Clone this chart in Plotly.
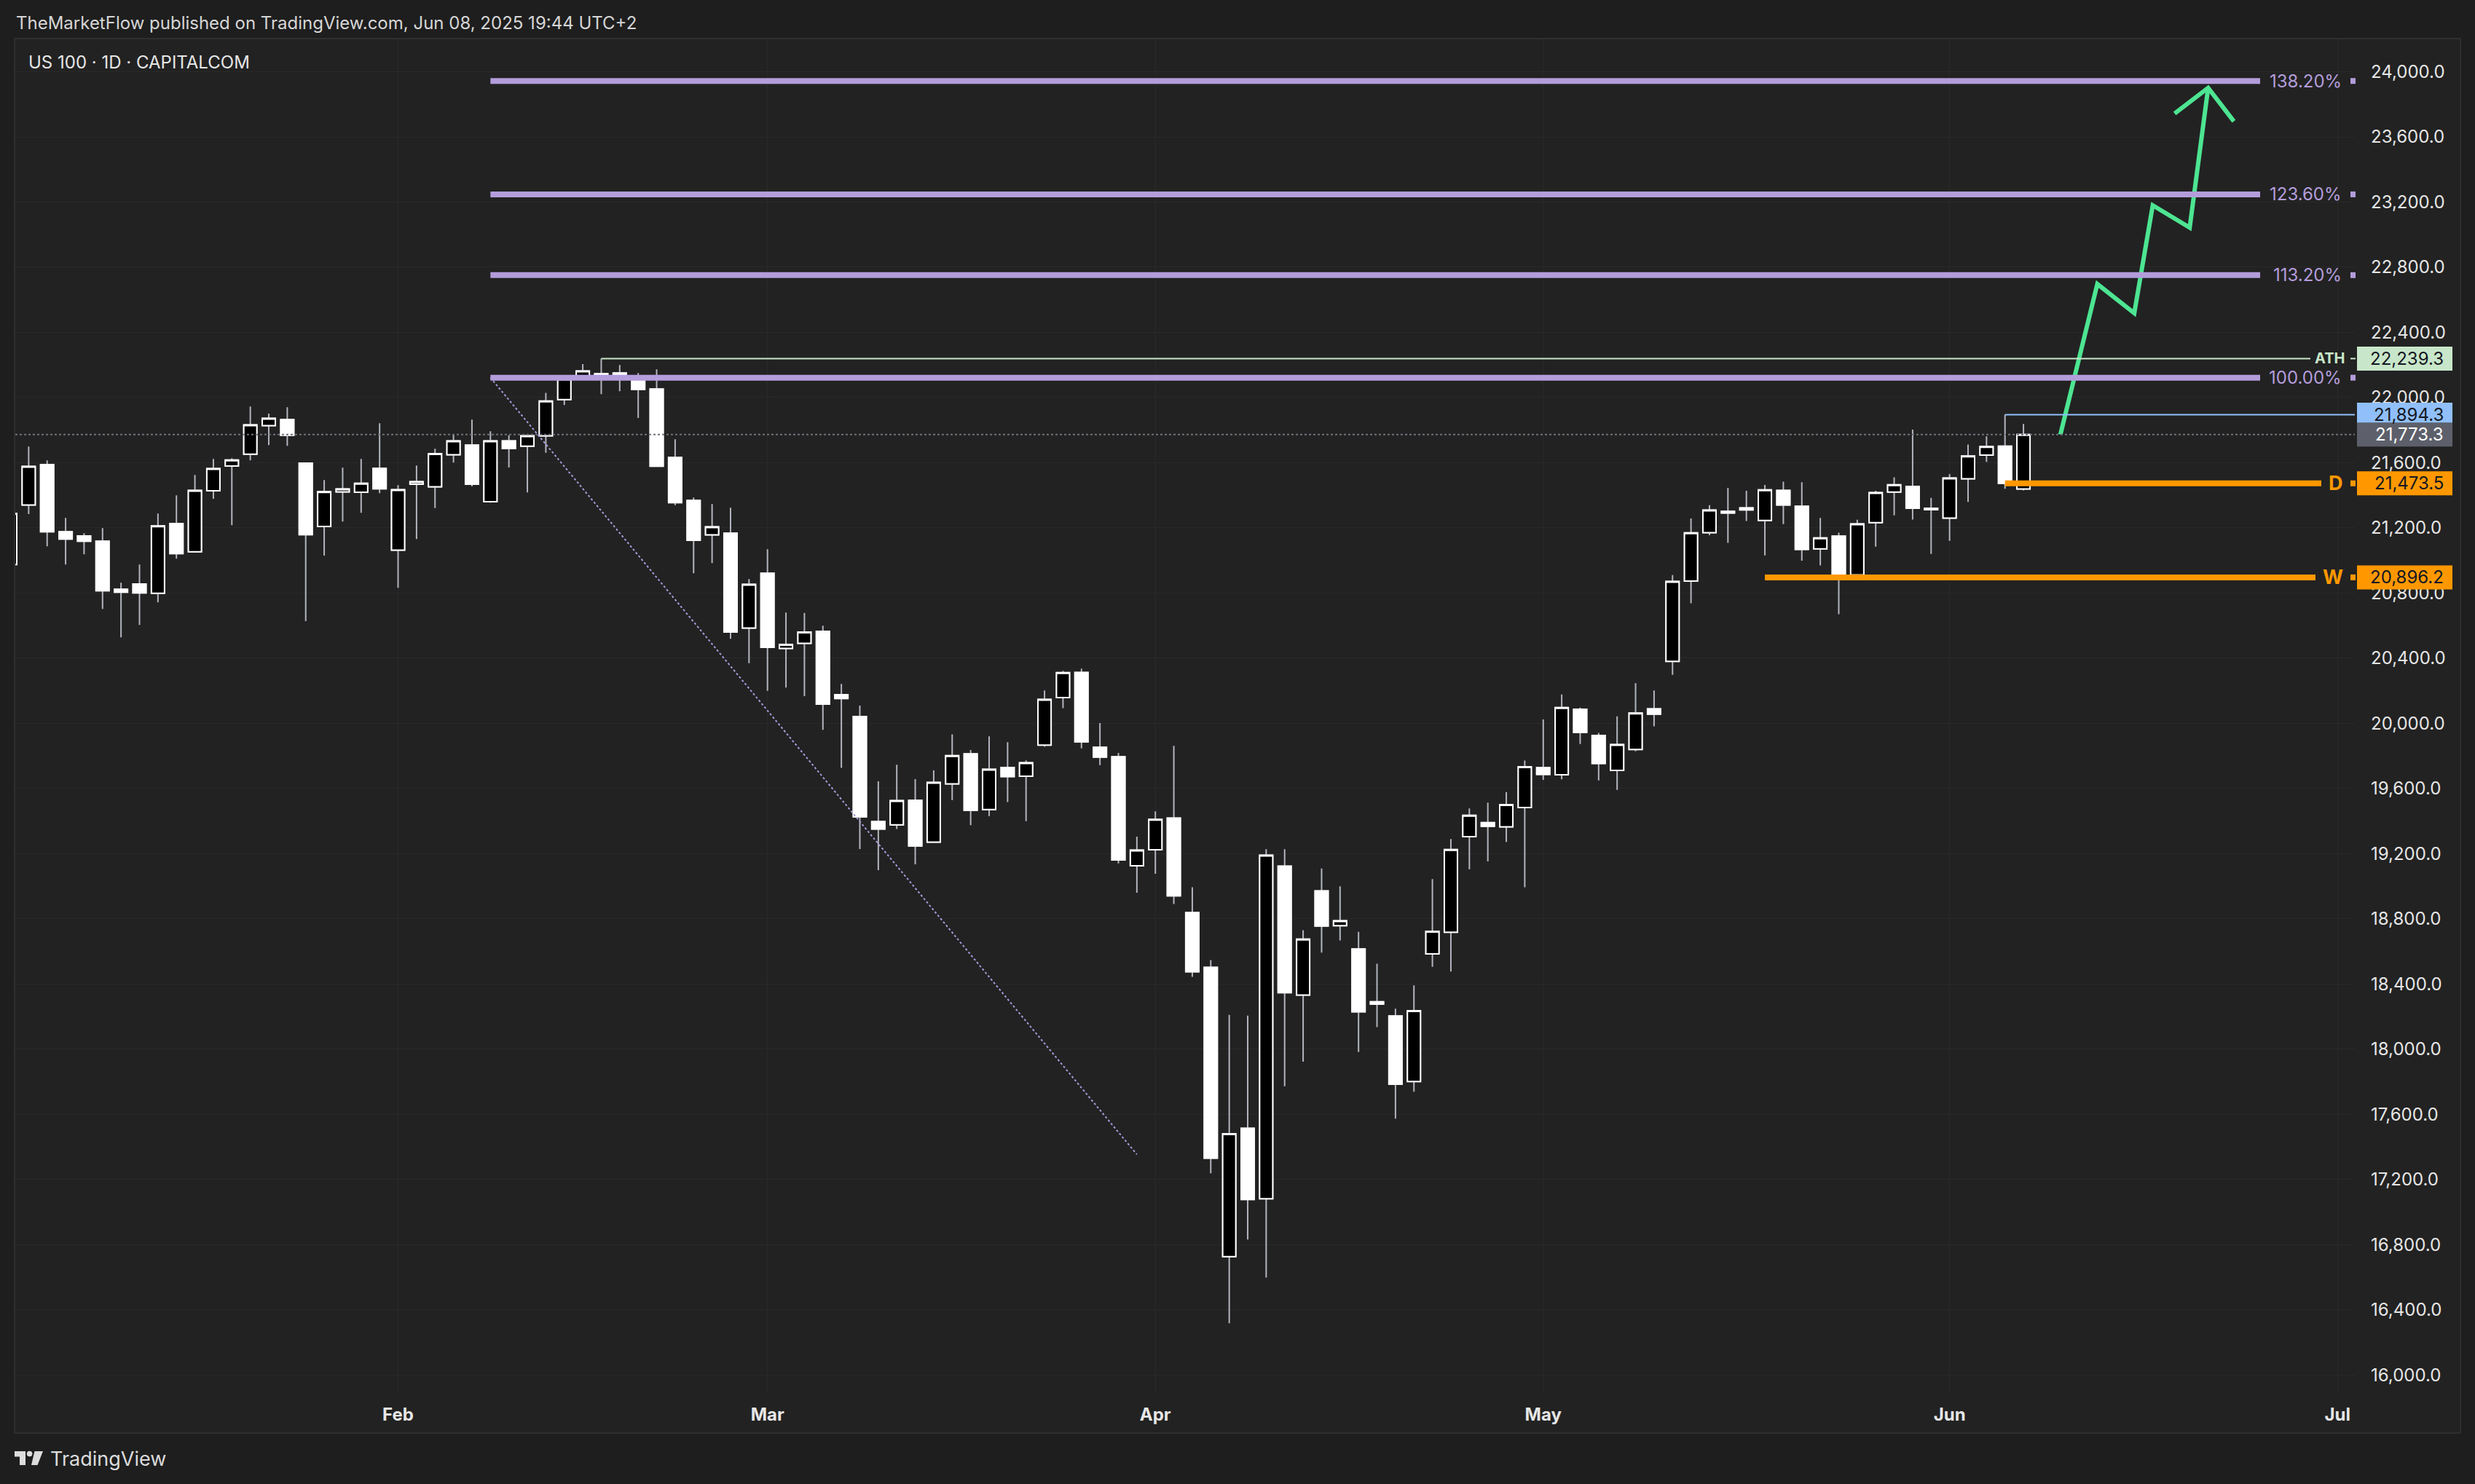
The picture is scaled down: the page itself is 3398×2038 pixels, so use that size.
import numpy as np
import pandas as pd
import plotly.graph_objects as go

# ---------------- data ----------------
HOLIDAYS = ["2025-04-18"]
dates = [d for d in pd.bdate_range("2025-01-03", "2025-06-06") if d.strftime("%Y-%m-%d") not in HOLIDAYS]
future_dates = list(pd.bdate_range("2025-06-09", "2025-07-03"))

opens = [20975, 21340, 21589, 21176, 21150, 21118, 20823, 20855, 20798, 21226,
         21053, 21428, 21580, 21652, 21828, 21865, 21597, 21209, 21421, 21419,
         21565, 21063, 21468, 21452, 21649, 21708, 21361, 21734, 21701, 21765,
         21988, 22131, 22146, 22151, 22128, 22052, 21632, 21369, 21157, 21167,
         20585, 20922, 20460, 20491, 20565, 20176, 20042, 19397, 19377, 19528,
         19271, 19629, 19813, 19471, 19729, 19675, 19867, 20158, 20313, 19853,
         19795, 19126, 19224, 19418, 18838, 18502, 16726, 17514, 17082, 19124,
         18332, 18971, 18758, 18615, 18291, 18204, 17802, 18585, 18718, 19305,
         19390, 19365, 19483, 19728, 19685, 20087, 19926, 19711, 19840, 20089,
         20381, 20873, 21171, 21301, 21323, 21245, 21430, 21333, 21071, 21149,
         20911, 21232, 21420, 21455, 21320, 21260, 21501, 21647, 21701, 21439]
highs = [21330, 21699, 21614, 21261, 21167, 21199, 20863, 20975, 21288, 21400,
         21525, 21623, 21628, 21945, 21901, 21941, 21600, 21494, 21570, 21623,
         21842, 21462, 21583, 21686, 21775, 21865, 21793, 21768, 21768, 22029,
         22137, 22205, 22239.3, 22200, 22151, 22173, 21744, 21386, 21346, 21324,
         20886, 21069, 20680, 20678, 20600, 20242, 20109, 19644, 19746, 19658,
         19711, 19933, 19836, 19920, 19884, 19773, 20202, 20322, 20336, 20002,
         19818, 19304, 19460, 19862, 18994, 18547, 18211, 18206, 19227, 19227,
         18730, 19109, 18999, 18720, 18525, 18249, 18392, 19044, 19290, 19478,
         19513, 19578, 19772, 20024, 20177, 20097, 19942, 20043, 20247, 20202,
         20910, 21258, 21339, 21446, 21428, 21464, 21484, 21480, 21261, 21171,
         21250, 21428, 21510, 21803, 21384, 21530, 21712, 21762, 21894.3, 21838]
lows = [20930, 21285, 21087, 20975, 21038, 20703, 20528, 20604, 20743, 21011,
        21048, 21379, 21217, 21614, 21708, 21704, 20628, 21030, 21239, 21293,
        21413, 20832, 21132, 21321, 21601, 21455, 21355, 21571, 21418, 21661,
        21954, 22108, 22021, 22039, 21875, 21575, 21339, 20922, 20984, 20519,
        20370, 20200, 20220, 20167, 19960, 19727, 19228, 19099, 19351, 19135,
        19266, 19529, 19375, 19431, 19517, 19400, 19856, 20093, 19847, 19744,
        19140, 18960, 19077, 18891, 18444, 17238, 16317, 16831, 16598, 17772,
        17923, 18593, 18668, 17983, 18136, 17574, 17739, 18505, 18477, 19104,
        19152, 19272, 18994, 19653, 19656, 19873, 19650, 19592, 19829, 19982,
        20298, 20737, 21155, 21108, 21242, 21031, 21223, 20999, 20969, 20670,
        20898, 21085, 21277, 21251, 21040, 21120, 21360, 21605, 21440, 21430]
closes = [21288, 21577, 21176, 21132, 21118, 20814, 20805, 20801, 21212, 21042,
          21430, 21564, 21617, 21832, 21872, 21768, 21158, 21422, 21439, 21474,
          21440, 21434, 21484, 21656, 21734, 21468, 21734, 21687, 21765, 21979,
          22114, 22163, 22140, 22143, 22050, 21579, 21355, 21124, 21206, 20561,
          20853, 20467, 20484, 20560, 20118, 20153, 19426, 19351, 19526, 19248,
          19638, 19802, 19466, 19718, 19673, 19758, 20147, 20311, 19887, 19793,
          19162, 19222, 19411, 18941, 18475, 17331, 17481, 17077, 19190, 18347,
          18675, 18756, 18788, 18229, 18276, 17785, 18236, 18723, 19225, 19435,
          19368, 19501, 19734, 19687, 20097, 19945, 19754, 19870, 20063, 20057,
          20871, 21170, 21309, 21291, 21310, 21433, 21341, 21068, 21138, 20896.2,
          21224, 21416, 21465, 21320, 21311, 21506, 21641, 21699, 21473.5, 21773.3]

# drawings (time, price)
FIB_ANCHOR_DATES = ["2025-02-10", "2025-03-31"]
FIB_ANCHOR_PRICES = [22122, 17354]
FIB_RATIOS = [1.0, 1.132, 1.236, 1.382]
FIB_LABELS = ["100.00%", "113.20%", "123.60%", "138.20%"]
ATH_DATE, ATH_PRICE = "2025-02-18", 22239.3
HIGH_DATE, HIGH_PRICE = "2025-06-05", 21894.3
D_DATE, D_PRICE = "2025-06-05", 21473.5
W_DATE, W_PRICE = "2025-05-19", 20896.2
LAST_PRICE = 21773.3
ARROW_DATES = ["2025-06-10", "2025-06-12", "2025-06-16", "2025-06-17", "2025-06-19", "2025-06-20"]
ARROW_PRICES = [21773.3, 22697, 22518, 23180, 23043, 23901]
MONTH_TICKS = ["2025-02-03", "2025-03-03", "2025-04-01", "2025-05-01", "2025-06-02", "2025-07-01"]
MONTH_LABELS = ["Feb", "Mar", "Apr", "May", "Jun", "Jul"]

# ---------------- geometry ----------------
W, H = 3398, 2038
L_PX, R_PX, T_PX, B_PX = 21, 3233, 54, 1912
XR = [0.276, 126.94]
YR = [15894, 24199]

calendar = [d.strftime("%Y-%m-%d") for d in dates + future_dates]
pos = {d: i for i, d in enumerate(calendar)}
xs = list(range(len(dates)))

def px(x):
    return (x - L_PX) / (R_PX - L_PX)

def py(y):
    return (B_PX - y) / (B_PX - T_PX)

def x_of_px(xp):
    return XR[0] + (xp - L_PX) / (R_PX - L_PX) * (XR[1] - XR[0])

def y_px(p):
    return B_PX - (p - YR[0]) / (YR[1] - YR[0]) * (B_PX - T_PX)

SX = (R_PX - L_PX) / (XR[1] - XR[0])
SY = (B_PX - T_PX) / (YR[1] - YR[0])

BG_OUT, BG_IN, FRAME = "#1e1e1e", "#222222", "#2e2e2e"
WICK, WHITE = "#b2b5be", "#ffffff"
PURPLE, ORANGE, ATHC, BLUE, GREEN = "#b39ddb", "#ff9800", "#c8e6c9", "#90bff9", "#4de592"
FONT = "Inter, Roboto, sans-serif"
FS = 24

fig = go.Figure()

# wicks
fig.add_trace(go.Candlestick(
    x=xs, open=opens, high=highs, low=lows, close=closes,
    increasing=dict(line=dict(color=WICK, width=2), fillcolor="rgba(0,0,0,0)"),
    decreasing=dict(line=dict(color=WICK, width=2), fillcolor="rgba(0,0,0,0)"),
    hoverinfo="skip", showlegend=False))
# bodies
body_hi = [max(o, c) for o, c in zip(opens, closes)]
body_lo = [min(o, c) for o, c in zip(opens, closes)]
fig.add_trace(go.Candlestick(
    x=xs, open=opens, high=body_hi, low=body_lo, close=closes,
    increasing=dict(line=dict(color=WHITE, width=2), fillcolor="#000000"),
    decreasing=dict(line=dict(color=WHITE, width=2), fillcolor=WHITE),
    showlegend=False))

shapes = []
annots = []

# frame background
shapes.append(dict(type="rect", xref="paper", yref="paper", layer="below",
                   x0=px(20), x1=px(3378), y0=py(1968), y1=py(53),
                   fillcolor=BG_IN, line=dict(color=FRAME, width=2)))

# fib diagonal
fx0, fx1 = pos[FIB_ANCHOR_DATES[0]], pos[FIB_ANCHOR_DATES[1]]
fig.add_trace(go.Scatter(x=[fx0, fx1], y=FIB_ANCHOR_PRICES, mode="lines",
                         line=dict(color="#a99bdc", width=2, dash="dot"),
                         hoverinfo="skip", showlegend=False))

fib_hi, fib_lo = FIB_ANCHOR_PRICES
fib_end = x_of_px(3103)
for r, lab in zip(FIB_RATIOS, FIB_LABELS):
    lvl = fib_lo + r * (fib_hi - fib_lo)
    shapes.append(dict(type="line", xref="x", yref="y", x0=fx0, x1=fib_end, y0=lvl, y1=lvl,
                       line=dict(color=PURPLE, width=8)))
    annots.append(dict(xref="paper", yref="y", x=px(3217), y=lvl, xanchor="right", yanchor="middle",
                       text=lab, showarrow=False, font=dict(family=FONT, size=FS, color=PURPLE)))
    yc = y_px(lvl)
    shapes.append(dict(type="rect", xref="paper", yref="paper", x0=px(3227), x1=px(3234),
                       y0=py(yc + 4), y1=py(yc - 4), fillcolor=PURPLE, line=dict(width=0)))

# current price dotted line
shapes.append(dict(type="line", xref="x", yref="y", x0=XR[0], x1=XR[1], y0=LAST_PRICE, y1=LAST_PRICE,
                   line=dict(color="#6f727c", width=2, dash="dot")))

# ATH line
shapes.append(dict(type="line", xref="x", yref="y", x0=pos[ATH_DATE], x1=x_of_px(3172),
                   y0=ATH_PRICE, y1=ATH_PRICE, line=dict(color=ATHC, width=2)))
annots.append(dict(xref="paper", yref="y", x=px(3221), y=ATH_PRICE, xanchor="right", yanchor="middle",
                   text="<b>ATH</b>", showarrow=False, font=dict(family=FONT, size=20, color=ATHC)))
yc = y_px(ATH_PRICE)
shapes.append(dict(type="rect", xref="paper", yref="paper", x0=px(3227), x1=px(3234),
                   y0=py(yc + 1), y1=py(yc - 1), fillcolor=ATHC, line=dict(width=0)))

# blue high line
shapes.append(dict(type="line", xref="x", yref="y", x0=pos[HIGH_DATE], x1=XR[1],
                   y0=HIGH_PRICE, y1=HIGH_PRICE, line=dict(color=BLUE, width=2)))

# D / W lines
for dte, price, lab, end_px in [(D_DATE, D_PRICE, "D", 3187), (W_DATE, W_PRICE, "W", 3179)]:
    shapes.append(dict(type="line", xref="x", yref="y", x0=pos[dte], x1=x_of_px(end_px),
                       y0=price, y1=price, line=dict(color=ORANGE, width=8)))
    annots.append(dict(xref="paper", yref="y", x=px(3219), y=price, xanchor="right", yanchor="middle",
                       text="<b>%s</b>" % lab, showarrow=False, font=dict(family=FONT, size=27, color=ORANGE)))
    yc = y_px(price)
    shapes.append(dict(type="rect", xref="paper", yref="paper", x0=px(3227), x1=px(3234),
                       y0=py(yc + 4), y1=py(yc - 4), fillcolor=ORANGE, line=dict(width=0)))

# green projected path
ax_ = [pos[d] for d in ARROW_DATES]
fig.add_trace(go.Scatter(x=ax_, y=ARROW_PRICES, mode="lines",
                         line=dict(color=GREEN, width=6), hoverinfo="skip", showlegend=False))
# arrow head (pixel geometry)
dx = (ax_[-1] - ax_[-2]) * SX
dy = -(ARROW_PRICES[-1] - ARROW_PRICES[-2]) * SY
ln = np.hypot(dx, dy)
ux, uy = -dx / ln, -dy / ln
head_x, head_y = [], []
for ang in (np.pi / 4, -np.pi / 4):
    vx = ux * np.cos(ang) - uy * np.sin(ang)
    vy = ux * np.sin(ang) + uy * np.cos(ang)
    head_x.append(ax_[-1] + vx * 58 / SX)
    head_y.append(ARROW_PRICES[-1] - vy * 58 / SY)
fig.add_trace(go.Scatter(x=[head_x[0], ax_[-1], head_x[1]], y=[head_y[0], ARROW_PRICES[-1], head_y[1]],
                         mode="lines", line=dict(color=GREEN, width=6), hoverinfo="skip", showlegend=False))

# price axis value boxes
for price, fill, tcol in [(ATH_PRICE, ATHC, "#131722"), (HIGH_PRICE, BLUE, "#131722"),
                          (LAST_PRICE, "#5d606b", "#ffffff"), (D_PRICE, ORANGE, "#131722"),
                          (W_PRICE, ORANGE, "#131722")]:
    yc = y_px(price)
    shapes.append(dict(type="rect", xref="paper", yref="paper", x0=px(3236), x1=px(3367),
                       y0=py(yc + 16.5), y1=py(yc - 16.5), fillcolor=fill, line=dict(width=0)))
    annots.append(dict(xref="paper", yref="y", x=px(3357), y=price, xanchor="right", yanchor="middle",
                       text="{:,.1f}".format(price), showarrow=False,
                       font=dict(family=FONT, size=FS, color=tcol)))

# header / titles
annots.append(dict(xref="paper", yref="paper", x=px(20), y=py(32), xanchor="left", yanchor="middle",
                   text="TheMarketFlow published on TradingView.com, Jun 08, 2025 19:44 UTC+2",
                   showarrow=False, font=dict(family=FONT, size=24, color="#d6d6d6")))
annots.append(dict(xref="paper", yref="paper", x=px(37), y=py(86), xanchor="left", yanchor="middle",
                   text="US 100 · 1D · CAPITALCOM", showarrow=False,
                   font=dict(family=FONT, size=24, color="#e6e6e6")))
annots.append(dict(xref="paper", yref="paper", x=px(67), y=py(2003), xanchor="left", yanchor="middle",
                   text="TradingView", showarrow=False, font=dict(family=FONT, size=27, color="#dcdcdc")))

# TradingView logo
def poly(pts):
    return "M" + " L".join("%f,%f" % (px(a), py(b)) for a, b in pts) + " Z"

LOGO = "#dcdcdc"
shapes.append(dict(type="path", xref="paper", yref="paper",
                   path=poly([(20, 1993), (35, 1993), (35, 2012), (27, 2012), (27, 2000.5), (20, 2000.5)]),
                   fillcolor=LOGO, line=dict(width=0)))
shapes.append(dict(type="circle", xref="paper", yref="paper", x0=px(36.8), x1=px(44.4),
                   y0=py(2000.3), y1=py(1992.7), fillcolor=LOGO, line=dict(width=0)))
shapes.append(dict(type="path", xref="paper", yref="paper",
                   path=poly([(47.5, 1993), (59, 1993), (51.5, 2012), (43, 2012)]),
                   fillcolor=LOGO, line=dict(width=0)))

fig.update_layout(
    width=W, height=H,
    margin=dict(l=L_PX, r=W - R_PX, t=T_PX, b=H - B_PX, pad=0),
    paper_bgcolor=BG_OUT, plot_bgcolor=BG_IN,
    showlegend=False, hovermode=False,
    boxgap=0.29, boxgroupgap=0, boxmode="overlay",
    font=dict(family=FONT, size=FS, color="#d1d4dc"),
    shapes=shapes, annotations=annots,
    xaxis=dict(range=XR, tickmode="array", tickvals=[pos[d] for d in MONTH_TICKS],
               ticktext=["<b>%s</b>" % m for m in MONTH_LABELS],
               showgrid=True, gridcolor="#292929", gridwidth=1, zeroline=False, showline=False,
               ticks="", ticklabelstandoff=14, rangeslider=dict(visible=False),
               tickfont=dict(family=FONT, size=FS, color="#e6e6e6"), fixedrange=True),
    yaxis=dict(side="right", range=YR, tick0=0, dtick=400, tickformat=",.1f",
               showgrid=True, gridcolor="#292929", gridwidth=1, zeroline=False, showline=False,
               ticks="", ticklabelstandoff=21,
               tickfont=dict(family=FONT, size=FS, color="#e6e6e6"), fixedrange=True),
)

fig.write_html("out.html", config={"displayModeBar": False, "staticPlot": True},
               post_script="document.body.style.margin='0';document.body.style.padding='0';"
                           "document.body.style.overflow='hidden';document.body.style.background='#1e1e1e';")
